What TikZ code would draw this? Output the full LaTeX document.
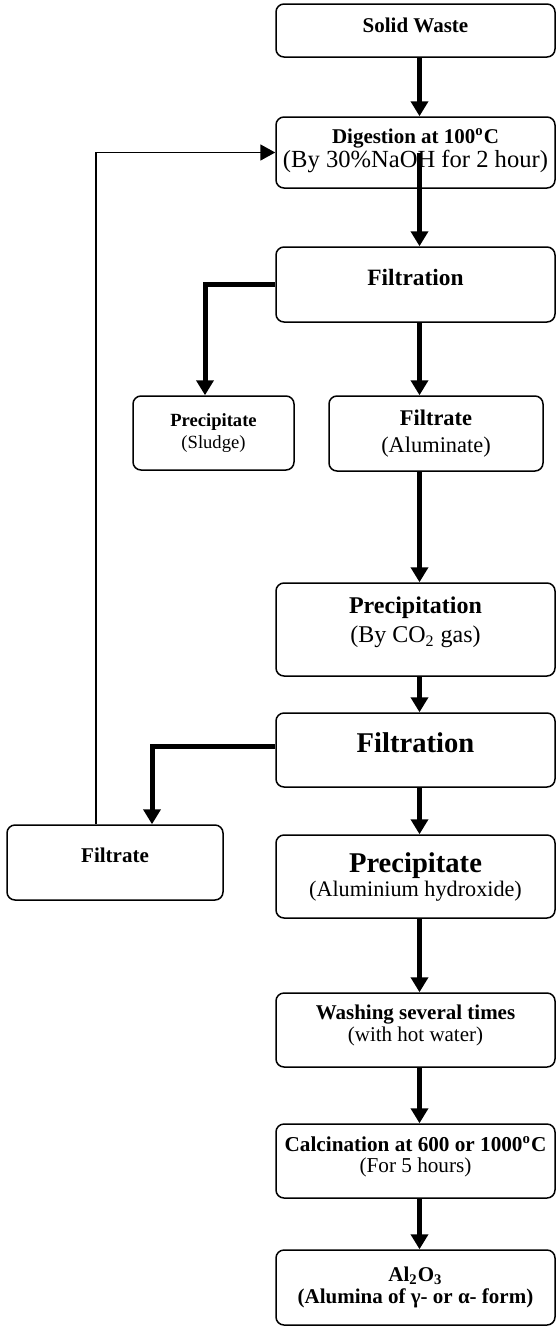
\documentclass[tikz,border=0pt]{standalone}
\usepackage{fontspec}
\setmainfont{Liberation Serif}
\usetikzlibrary{arrows.meta}
\newcommand{\fsz}[2]{\fontsize{#1}{#2}\selectfont}

\begin{document}
\begin{tikzpicture}[x=0.5pt,y=-0.5pt,
  box/.style={draw,line width=0.75pt,rounded corners=4pt,align=center,inner sep=0pt},
  colbox/.style={box,minimum width=139.5pt},
  lift/.style={text depth=#1},
  flow/.style={line width=2.5pt,-{Triangle[width=8.5pt,length=7.5pt]}},
  back/.style={line width=0.9pt,-{Triangle[width=8pt,length=7.5pt]}}]
\useasboundingbox (0,0) rectangle (556,1328);

% main column
\node[colbox,minimum height=26.5pt,lift=5.5pt,font=\fsz{10.5}{11.5}\bfseries] (waste) at (415.5,30.5) {Solid Waste};
\node[colbox,minimum height=35.5pt,lift=4.5pt] (digest) at (415.5,152.5)
  {{\fsz{10.5}{12}\bfseries Digestion at 100\textsuperscript{o}C}\\{\fsz{12.3}{12}(By 30\%NaOH for 2 hour)}};
\node[colbox,minimum height=37.5pt,lift=7.5pt,font=\fsz{11.7}{13}\bfseries] (filt1) at (415.5,284.5) {Filtration};
\node[box,minimum width=80.5pt,minimum height=37pt,font=\fsz{9.3}{11}] (sludge) at (213.5,433)
  {\textbf{Precipitate}\\(Sludge)};
\node[box,minimum width=107pt,minimum height=37.5pt,font=\fsz{11.2}{13.5}] (alum) at (436,433.5)
  {\textbf{Filtrate}\\(Aluminate)};
\node[colbox,minimum height=46.5pt,lift=9.6pt,font=\fsz{12}{14.5}] (precip) at (415.5,629.5)
  {\textbf{Precipitation}\\(By CO\textsubscript{2} gas)};
\node[colbox,minimum height=37pt,lift=7pt,font=\fsz{14.3}{16}\bfseries] (filt2) at (415.5,750) {Filtration};
\node[box,minimum width=108pt,minimum height=37.5pt,lift=7.5pt,font=\fsz{10.5}{12}\bfseries] (filtrate) at (115,862.5) {Filtrate};
\node[colbox,minimum height=41.5pt] (hydrox) at (415.5,876.5)
  {{\fsz{14.3}{15}\bfseries Precipitate}\\{\fsz{11.1}{15}(Aluminium hydroxide)}};
\node[colbox,minimum height=37pt,lift=6.3pt,font=\fsz{10.5}{11}] (wash) at (415.5,1030)
  {\textbf{Washing several times}\\(with hot water)};
\node[colbox,minimum height=37pt,lift=6.8pt,font=\fsz{10.6}{10.5}] (calc) at (415.5,1161)
  {\textbf{Calcination at 600 or 1000\textsuperscript{o}C}\\(For 5 hours)};
\node[colbox,minimum height=37.5pt,font=\fsz{10.5}{11}\bfseries] (alumina) at (415.5,1287.5)
  {Al\textsubscript{2}O\textsubscript{3}\\(Alumina of γ- or α- form)};

% arrows down the column
\foreach \a/\b in {waste/digest,precip/filt2,filt2/hydrox,hydrox/wash,wash/calc,calc/alumina} {
  \draw[flow] ([xshift=2pt]\a.south) -- ([xshift=2pt]\b.north);
}
\draw[flow] ([xshift=2pt]digest.center) -- ([xshift=2pt]filt1.north);
\draw[flow] ([xshift=2pt]filt1.south) -- ([xshift=2pt]filt1.south |- alum.north);
\draw[flow] ([xshift=2pt]precip.north |- alum.south) -- ([xshift=2pt]precip.north);

% side branches
\draw[flow] (filt1.west) -| ([xshift=-4.25pt]sludge.north);
\draw[flow] ([yshift=1.75pt]filt2.west) -| ([xshift=18.5pt]filtrate.north);
\draw[back] ([xshift=-9.5pt]filtrate.north) |- (digest.west);
\end{tikzpicture}
\end{document}
